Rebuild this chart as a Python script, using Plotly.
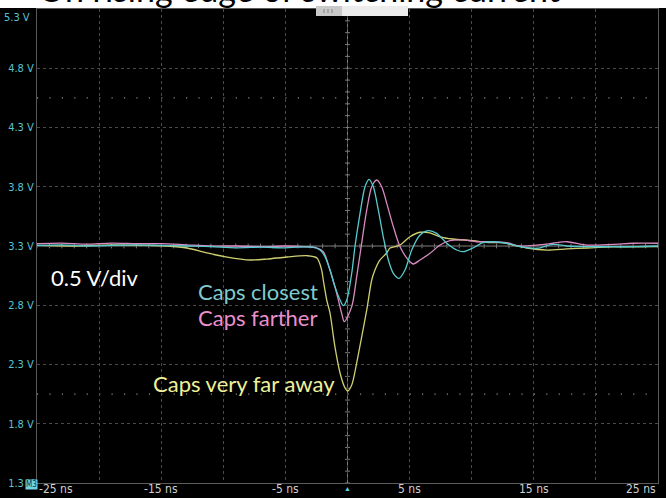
import plotly.graph_objects as go

# ---- waveform data (time in ns, voltage in V) ----
cyan_t = [-25, -23, -21, -19, -17, -15, -13, -11, -9, -7, -5, -4, -2.78, -2.21, -1.81,
          -1.41, -1.01, -0.60, -0.34, -0.06, 0.34, 0.60, 1.01, 1.41, 1.73, 2.08, 2.48,
          2.88, 3.29, 3.69, 4.15, 4.63, 5.17, 5.84, 6.51, 7.18, 7.99, 8.79, 9.32, 10.10,
          10.91, 11.71, 12.82, 13.89, 15.26, 16.55, 17.67, 19.28, 21.38, 22.99, 25]
cyan_v = [3.305, 3.31, 3.30, 3.305, 3.31, 3.305, 3.30, 3.295, 3.285, 3.29, 3.285, 3.29,
          3.29, 3.266, 3.21, 3.097, 2.957, 2.844, 2.796, 2.844, 3.07, 3.294, 3.576, 3.80,
          3.863, 3.80, 3.604, 3.378, 3.182, 3.07, 3.027, 3.097, 3.266, 3.393, 3.429,
          3.407, 3.323, 3.266, 3.252, 3.283, 3.328, 3.336, 3.323, 3.294, 3.281, 3.314,
          3.30, 3.294, 3.294, 3.294, 3.30]

pink_t = [-25, -23, -21, -19, -17, -15, -13, -11, -9, -7, -5, -3.5, -2.5, -1.95, -1.41,
          -0.87, -0.47, -0.26, 0.34, 0.74, 1.14, 1.55, 1.95, 2.35, 2.75, 3.16, 3.69, 4.23,
          4.90, 5.30, 5.84, 6.64, 7.45, 8.25, 9.32, 10.40, 11.47, 12.82, 13.89, 15.26,
          16.55, 17.67, 19.28, 21.38, 22.99, 25]
pink_v = [3.32, 3.325, 3.315, 3.325, 3.32, 3.32, 3.31, 3.30, 3.30, 3.295, 3.30, 3.295,
          3.285, 3.252, 3.097, 2.90, 2.732, 2.661, 2.788, 3.041, 3.323, 3.604, 3.80,
          3.857, 3.80, 3.66, 3.463, 3.294, 3.182, 3.148, 3.182, 3.238, 3.308, 3.345,
          3.351, 3.336, 3.336, 3.328, 3.30, 3.308, 3.323, 3.336, 3.308, 3.314, 3.323, 3.323]

yellow_t = [-25, -22, -19, -16, -14.5, -12.92, -11.31, -9.70, -7.85, -6.48, -4.87, -3.26,
            -2.46, -2.08, -1.95, -1.67, -1.41, -1.01, -0.60, -0.20, 0.02, 0.34, 0.74,
            1.14, 1.55, 1.95, 2.21, 2.62, 3.16, 3.42, 3.82, 4.23, 5.03, 5.84, 6.64, 7.45,
            8.49, 10.10, 11.47, 12.52, 13.33, 14.45, 16.06, 17.67, 19.28, 21.38, 22.99, 25]
yellow_v = [3.305, 3.30, 3.31, 3.305, 3.30, 3.283, 3.241, 3.207, 3.182, 3.19, 3.207, 3.218,
            3.199, 3.097, 3.013, 2.844, 2.735, 2.448, 2.228, 2.102, 2.076, 2.127, 2.313,
            2.532, 2.76, 3.013, 3.097, 3.182, 3.241, 3.283, 3.294, 3.308, 3.378, 3.416,
            3.41, 3.378, 3.359, 3.345, 3.328, 3.328, 3.308, 3.283, 3.266, 3.275, 3.283,
            3.292, 3.292, 3.294]

y_ticks = [1.3, 1.8, 2.3, 2.8, 3.3, 3.8, 4.3, 4.8, 5.3]
y_tick_text = ["1.3 V", "1.8 V", "2.3 V", "2.8 V", "3.3 V", "3.8 V", "4.3 V", "4.8 V", "5.3 V"]
x_grid = [-25, -20, -15, -10, -5, 0, 5, 10, 15, 20, 25]
x_label_vals = [-25, -15, -5, 5, 15, 25]
x_label_text = ["-25 ns", "-15 ns", "-5 ns", "5 ns", "15 ns", "25 ns"]
cursor_levels = [4.55, 2.05]

# ---- layout geometry ----
W, H = 666, 498
L, R, T, B = 37, 8, 9, 15
PW, PH = W - L - R, H - T - B


def pxx(p):
    return (p - L) / PW


def pxy(p):
    return (H - B - p) / PH


NARROW = "Liberation Sans Narrow, DejaVu Sans Condensed, Arial Narrow, sans-serif"
SANS = "Lato, Open Sans, sans-serif"
TICK_CYAN = "#58c3d2"
NOTE_SIZE = 22

fig = go.Figure()
fig.add_trace(go.Scatter(x=yellow_t, y=yellow_v, mode="lines",
                         line=dict(color="#cfcf72", width=1.3, shape="spline", smoothing=0.8)))
fig.add_trace(go.Scatter(x=pink_t, y=pink_v, mode="lines",
                         line=dict(color="#d98ac2", width=1.3, shape="spline", smoothing=0.8)))
fig.add_trace(go.Scatter(x=cyan_t, y=cyan_v, mode="lines",
                         line=dict(color="#55cbcf", width=1.3, shape="spline", smoothing=0.8)))

shapes = []
# centre cross lines
shapes.append(dict(type="line", xref="x", yref="paper", x0=0, x1=0, y0=0, y1=1,
                   line=dict(color="#7a7a7a", width=1), layer="below"))
shapes.append(dict(type="line", xref="paper", yref="y", x0=0, x1=1, y0=3.3, y1=3.3,
                   line=dict(color="#7a7a7a", width=1), layer="below"))
# minor ticks on centre lines
for i in range(-25, 26):
    shapes.append(dict(type="line", xref="x", yref="y", x0=i, x1=i, y0=3.28, y1=3.32,
                       line=dict(color="#7a7a7a", width=1), layer="below"))
for k in range(13, 54):
    v = k / 10
    shapes.append(dict(type="line", xref="x", yref="y", x0=-0.2, x1=0.2, y0=v, y1=v,
                       line=dict(color="#7a7a7a", width=1), layer="below"))
# cursor lines (sparse dots)
for c in cursor_levels:
    shapes.append(dict(type="line", xref="paper", yref="y", x0=0, x1=1, y0=c, y1=c,
                       line=dict(color="#8c8c8c", width=1.2, dash="1.2px,11.22px"),
                       layer="below"))
# white strip at the very top holding the heading
shapes.append(dict(type="rect", xref="paper", yref="paper", x0=pxx(-5), x1=pxx(W + 5),
                   y0=pxy(8), y1=pxy(-20), fillcolor="white", line=dict(width=0),
                   layer="above"))
# small tab on the top border
shapes.append(dict(type="rect", xref="paper", yref="paper", x0=pxx(316), x1=pxx(342),
                   y0=pxy(16), y1=pxy(6), fillcolor="#c9c9c9", line=dict(width=0),
                   layer="above"))
shapes.append(dict(type="rect", xref="paper", yref="paper", x0=pxx(342), x1=pxx(408),
                   y0=pxy(16), y1=pxy(6), fillcolor="#ececec", line=dict(width=0),
                   layer="above"))
for gx in (324, 328, 332):
    shapes.append(dict(type="line", xref="paper", yref="paper", x0=pxx(gx), x1=pxx(gx),
                       y0=pxy(13), y1=pxy(9), line=dict(color="#9a9a9a", width=1.5),
                       layer="above"))

annotations = []
annotations.append(dict(text="On rising edge of switching current", xref="paper", yref="paper",
                        x=pxx(36), y=pxy(11), xanchor="left", yanchor="bottom",
                        showarrow=False, font=dict(family=SANS, size=34, color="black")))
# top scale label sits just inside the frame
annotations.append(dict(text=y_tick_text[-1], xref="paper", yref="paper", x=pxx(32), y=pxy(17),
                        xanchor="right", yanchor="middle", showarrow=False,
                        font=dict(family=NARROW, size=11, color=TICK_CYAN)))
annotations.append(dict(text="0.5 V/div", xref="paper", yref="paper", x=pxx(49), y=pxy(277),
                        xanchor="left", yanchor="middle", showarrow=False,
                        font=dict(family=SANS, size=NOTE_SIZE, color="white")))
annotations.append(dict(text="Caps closest", xref="paper", yref="paper", x=pxx(196), y=pxy(291),
                        xanchor="left", yanchor="middle", showarrow=False,
                        font=dict(family=SANS, size=NOTE_SIZE, color="#7fcbcd")))
annotations.append(dict(text="Caps farther", xref="paper", yref="paper", x=pxx(196), y=pxy(318),
                        xanchor="left", yanchor="middle", showarrow=False,
                        font=dict(family=SANS, size=NOTE_SIZE, color="#ea90cc")))
annotations.append(dict(text="Caps very far away", xref="paper", yref="paper", x=pxx(151),
                        y=pxy(383), xanchor="left", yanchor="middle", showarrow=False,
                        font=dict(family=SANS, size=NOTE_SIZE, color="#f0f09a")))
# x tick labels: outer ones aligned to the frame edges
for val, txt in zip(x_label_vals, x_label_text):
    anchor = "left" if val == x_label_vals[0] else ("right" if val == x_label_vals[-1] else "center")
    annotations.append(dict(text=txt, xref="x", yref="paper", x=val, y=pxy(489),
                            xanchor=anchor, yanchor="middle", showarrow=False,
                            font=dict(family=NARROW, size=12, color="#cfcfcf")))
# trigger marker and channel marker
annotations.append(dict(text="\u25b2", xref="x", yref="paper", x=0, y=pxy(488),
                        xanchor="center", yanchor="middle", showarrow=False,
                        font=dict(size=7, color="#5fd0e0")))
annotations.append(dict(text="M3", xref="paper", yref="paper", x=pxx(31.5), y=pxy(484),
                        xanchor="center", yanchor="middle", showarrow=False,
                        bgcolor="#6fd3e3", borderpad=0,
                        font=dict(family=NARROW, size=8, color="#0a3550")))

fig.update_layout(
    width=W, height=H,
    margin=dict(l=L, r=R, t=T, b=B),
    paper_bgcolor="black", plot_bgcolor="black",
    showlegend=False,
    shapes=shapes, annotations=annotations,
    xaxis=dict(range=[-25, 25], tickvals=x_grid, showticklabels=False, ticks="",
               showgrid=True, gridcolor="#4a4a4a", griddash="dot", gridwidth=1,
               zeroline=False, showline=True, linecolor="#5a5a5a", linewidth=1, mirror=True,
               fixedrange=True),
    yaxis=dict(range=[1.3, 5.3], tickvals=y_ticks[:-1], ticktext=y_tick_text[:-1], ticks="",
               tickfont=dict(family=NARROW, size=11, color=TICK_CYAN),
               showgrid=True, gridcolor="#4a4a4a", griddash="dot", gridwidth=1,
               zeroline=False, showline=True, linecolor="#5a5a5a", linewidth=1, mirror=True,
               fixedrange=True),
)

fig.write_html("out.html")
